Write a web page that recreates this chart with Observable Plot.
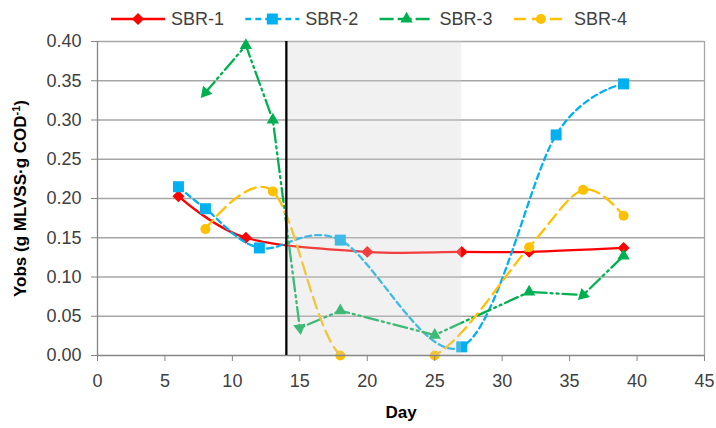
<!DOCTYPE html>
<html><head><meta charset="utf-8">
<script src="https://cdn.jsdelivr.net/npm/d3@7"></script>
<script src="https://cdn.jsdelivr.net/npm/@observablehq/plot@0.6"></script>
<style>
body{margin:0;background:#fff;font-family:"Liberation Sans",Arial,sans-serif;}
#wrap{width:716px;height:428px;overflow:hidden;}
#legend{height:38px;}
</style></head><body><div id="wrap"><div id="legend"></div><div id="chart"></div></div>
<script>
// ---- data ----
const seriesNames = ["SBR-1", "SBR-2", "SBR-3", "SBR-4"];
const seriesColors = ["#FF0000", "#00B0F0", "#00B050", "#FFC000"];
const seriesSymbols = ["diamond2", "square", "triangle", "circle"];
const seriesDashes = [null, "6,4", "14,4,2,4,2,4", "12,6"];
const seriesCurves = ["cardinal", "cardinal", "linear", "cardinal"];
const seriesR = [5.4, 6.2, 4.6, 5];

const sbr1Days = [6, 11, 20, 27, 32, 39];
const sbr1Yobs = [0.203, 0.150, 0.132, 0.132, 0.132, 0.137];
const sbr2Days = [6, 8, 12, 18, 27, 34, 39];
const sbr2Yobs = [0.215, 0.187, 0.137, 0.147, 0.011, 0.281, 0.346];
const sbr3Days = [8, 11, 13, 15, 18, 25, 32, 36, 39];
const sbr3Yobs = [0.335, 0.395, 0.300, 0.035, 0.057, 0.026, 0.081, 0.077, 0.127];
const sbr4Days = [8, 13, 18, 25, 32, 36, 39];
const sbr4Yobs = [0.161, 0.209, 0.0, 0.0, 0.138, 0.211, 0.178];
// SBR-3 markers drawn as arrowheads: [marker index, index of the point it points away from]
const sbr3Arrowheads = [[0, 1], [3, 2], [7, 8]];

const xTicks = [0, 5, 10, 15, 20, 25, 30, 35, 40, 45];
const yTicks = [0, 0.05, 0.10, 0.15, 0.20, 0.25, 0.30, 0.35, 0.40];
const shadeStart = 14, shadeEnd = 27;
const markerDay = 14;
const xLabel = "Day";
const yLabel = "Yobs (g MLVSS·g COD-1)";

// ---- build ----
const W = 716, H = 390, mT = 3, mB = 73, mL = 97, mR = 12;
const allDays = [sbr1Days, sbr2Days, sbr3Days, sbr4Days];
const allYobs = [sbr1Yobs, sbr2Yobs, sbr3Yobs, sbr4Yobs];
const xMin = xTicks[0], xMax = xTicks[xTicks.length - 1];
const yMin = yTicks[0], yMax = yTicks[yTicks.length - 1];
const kx = (W - mL - mR) / (xMax - xMin), ky = (H - mT - mB) / (yMax - yMin);

const series = seriesNames.map((name, i) => allDays[i].map((d, j) => ({name, day: d, yobs: allYobs[i][j], rot: 0})));
sbr3Arrowheads.forEach(([k, from]) => {
  const dx = (sbr3Days[k] - sbr3Days[from]) * kx;
  const dy = (sbr3Yobs[k] - sbr3Yobs[from]) * ky; // up positive
  series[2][k].rot = Math.atan2(dx, dy) * 180 / Math.PI;
});

const marks = [];
marks.push(Plot.ruleY(yTicks.filter(v => v > yMin), {stroke: "#a6a6a6", strokeWidth: 1.3}));
marks.push(Plot.ruleX([xMax], {stroke: "#a6a6a6", strokeWidth: 1.3}));
series.forEach((data, i) => {
  marks.push(Plot.line(data, {x: "day", y: "yobs", curve: seriesCurves[i], stroke: seriesColors[i], strokeWidth: 2.3,
    strokeDasharray: seriesDashes[i] || undefined, clip: true}));
  marks.push(Plot.dot(data, {x: "day", y: "yobs", symbol: () => seriesSymbols[i], rotate: "rot", fill: seriesColors[i], stroke: "none", r: seriesR[i]}));
});
marks.push(Plot.rect([{a: shadeStart, b: shadeEnd}], {x1: "a", x2: "b", y1: () => yMin, y2: () => yMax, fill: "#d0d0d0", fillOpacity: 0.3}));
marks.push(Plot.ruleY([yMin], {stroke: "#868686", strokeWidth: 1.3}));
marks.push(Plot.ruleX([xMin], {stroke: "#868686", strokeWidth: 1.3}));
marks.push(Plot.ruleX([markerDay], {y1: () => yMin, y2: () => yMax, stroke: "#000", strokeWidth: 2.3}));
marks.push(Plot.axisX({ticks: xTicks, tickSize: 6, tickPadding: 13, stroke: "#868686", fill: "#404040",
  label: xLabel, labelAnchor: "center", labelOffset: 62, labelArrow: "none"}));
marks.push(Plot.axisY({ticks: yTicks, tickFormat: d3.format(".2f"), tickSize: 6, tickPadding: 10, stroke: "#868686", fill: "#404040",
  label: yLabel, labelAnchor: "center", labelOffset: 84, labelArrow: "none"}));

const chart = Plot.plot({
  width: W, height: H,
  marginTop: mT, marginBottom: mB, marginLeft: mL, marginRight: mR,
  style: {fontFamily: "'Liberation Sans', Arial, sans-serif", fontSize: "18px", background: "#fff", overflow: "visible"},
  x: {domain: [xMin, xMax]},
  y: {domain: [yMin, yMax]},
  symbol: {domain: seriesSymbols, range: seriesSymbols},
  marks
});
document.getElementById("chart").appendChild(chart);

// bold axis labels and superscript
const svg = d3.select(chart);
svg.selectAll('g[aria-label="x-axis label"] text, g[aria-label="y-axis label"] text')
  .attr("font-weight", "bold").attr("fill", "#000").style("font-size", "17px");
svg.selectAll('g[aria-label="y-axis label"] text').each(function() {
  const t = d3.select(this);
  const txt = t.text();
  const m = txt.match(/^(.*COD)(-1)(\))$/);
  if (m) {
    t.text(null);
    t.append("tspan").text(m[1]);
    t.append("tspan").attr("baseline-shift", "super").style("font-size", "11px").text(m[2]);
    t.append("tspan").text(m[3]);
  }
});

// legend
const lg = d3.select("#legend").append("svg").attr("width", W).attr("height", 38)
  .style("font-family", "'Liberation Sans', Arial, sans-serif");
const symMap = {diamond2: d3.symbolDiamond2, square: d3.symbolSquare, triangle: d3.symbolTriangle, circle: d3.symbolCircle};
seriesNames.forEach((name, i) => {
  const x0 = 111 + i * 134.3, cy = 19;
  const g = lg.append("g");
  g.append("line").attr("x1", x0).attr("x2", x0 + 54).attr("y1", cy).attr("y2", cy)
    .attr("stroke", seriesColors[i]).attr("stroke-width", 2.3)
    .attr("stroke-dasharray", seriesDashes[i] ? (i === 2 ? "14,4" : (i === 1 ? "6,4" : "12,6")) : null);
  g.append("path").attr("transform", `translate(${x0 + 27},${cy})`)
    .attr("d", d3.symbol(symMap[seriesSymbols[i]], Math.PI * seriesR[i] * seriesR[i])())
    .attr("fill", seriesColors[i]);
  g.append("text").attr("x", x0 + 60).attr("y", cy).attr("dy", "0.35em")
    .attr("fill", "#404040").style("font-size", "18px").text(name);
});
</script></body></html>
